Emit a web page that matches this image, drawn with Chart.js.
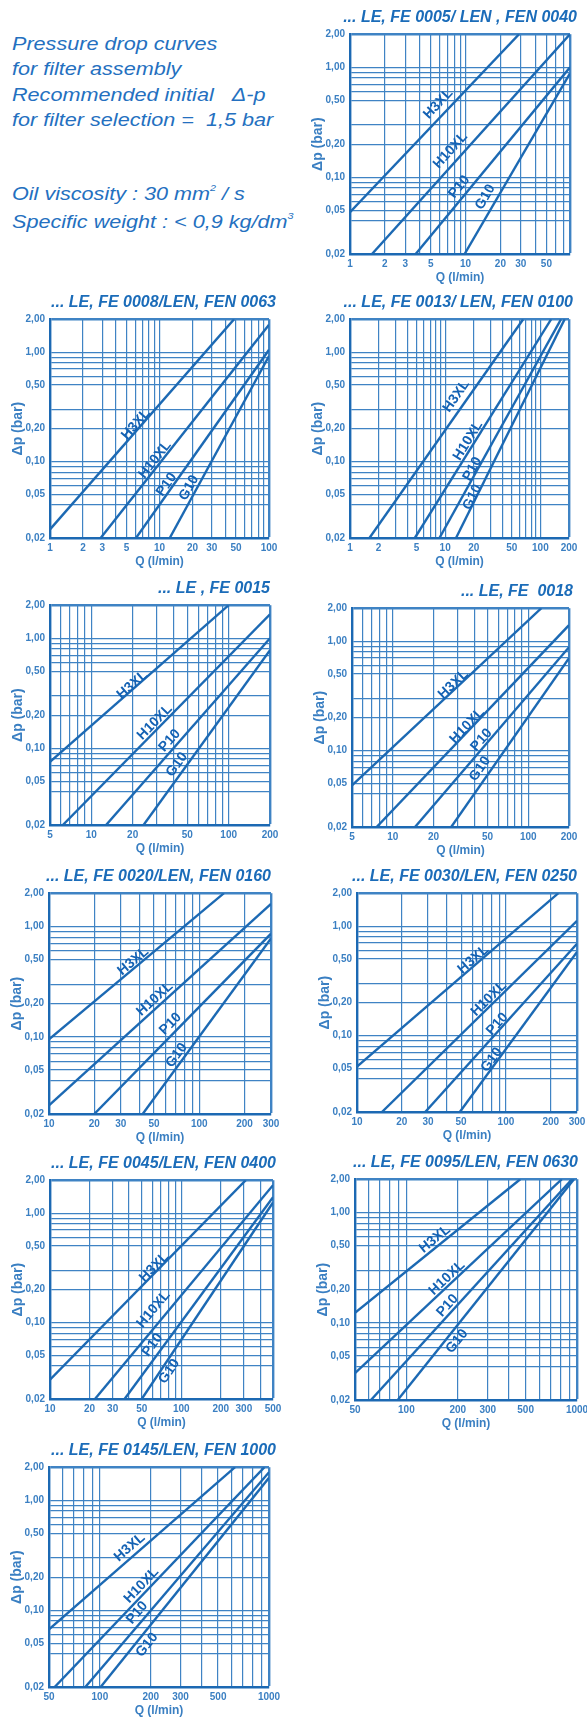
<!DOCTYPE html>
<html>
<head>
<meta charset="utf-8">
<script src="https://cdn.jsdelivr.net/npm/chart.js@4.4.1/dist/chart.umd.min.js"></script>
<style>
body { margin:0; background:#fff; width:587px; height:1717px; position:relative; overflow:hidden; }
.note { position:absolute; left:12px; font-family:'Liberation Sans', Arial, sans-serif; font-style:italic; font-size:18px; line-height:25.3px; color:#2470c0; white-space:nowrap; transform:scaleX(1.2); transform-origin:left top; }
.note sup { font-size:9px; vertical-align:baseline; position:relative; top:-9px; }
canvas { position:absolute; }
</style>
</head>
<body>
<div class="note" style="top:32px">Pressure drop curves<br>for filter assembly<br>Recommended initial&nbsp;&nbsp; &Delta;-p<br>for filter selection =&nbsp; 1,5 bar</div>
<div class="note" style="top:182px">Oil viscosity : 30 mm<sup>2</sup> / s<br>Specific weight : &lt; 0,9 kg/dm<sup>3</sup></div>
<script>
// curve names, same order in every chart
const series = ['H3XL', 'H10XL', 'P10', 'G10']

const titles = [
    '... LE, FE 0005/ LEN , FEN 0040',
    '... LE, FE 0008/LEN, FEN 0063',
    '... LE, FE 0013/ LEN, FEN 0100',
    '... LE , FE 0015',
    '... LE, FE  0018',
    '... LE, FE 0020/LEN, FEN 0160',
    '... LE, FE 0030/LEN, FEN 0250',
    '... LE, FE 0045/LEN, FEN 0400',
    '... LE, FE 0095/LEN, FEN 0630',
    '... LE, FE 0145/LEN, FEN 1000'
]

// Q axis (l/min)
const qMin = [1, 1, 1, 5, 5, 10, 10, 10, 50, 50]
const qMax = [80, 100, 200, 200, 200, 300, 300, 500, 1000, 1000]
const qTickLabels = [
    [1, 2, 3, 5, 10, 20, 30, 50],
    [1, 2, 3, 5, 10, 20, 30, 50, 100],
    [1, 2, 5, 10, 20, 50, 100, 200],
    [5, 10, 20, 50, 100, 200],
    [5, 10, 20, 50, 100, 200],
    [10, 20, 30, 50, 100, 200, 300],
    [10, 20, 30, 50, 100, 200, 300],
    [10, 20, 30, 50, 100, 200, 300, 500],
    [50, 100, 200, 300, 500, 1000],
    [50, 100, 200, 300, 500, 1000]
]

// delta-p axis (bar)
const dpTickLabels = [0.02, 0.05, 0.1, 0.2, 0.5, 1, 2]
const dpGrid = [0.02, 0.04, 0.05, 0.06, 0.07, 0.08, 0.09, 0.1, 0.2, 0.3, 0.5, 0.6, 0.7, 0.8, 0.9, 1, 2]

// each curve: [Q start, Q end] and [dp start, dp end]
const c1Q = [[1, 29], [1.55, 80], [3.7, 80], [9.8, 80]]
const c1Dp = [[0.048, 2], [0.02, 2], [0.02, 1.0], [0.02, 0.88]]
const c2Q = [[1, 48], [2.9, 100], [6.1, 100], [12.4, 100]]
const c2Dp = [[0.024, 2], [0.02, 1.78], [0.02, 1.05], [0.02, 0.92]]
const c3Q = [[1.6, 66], [4.8, 130], [8.7, 165], [13, 180]]
const c3Dp = [[0.02, 2], [0.02, 2], [0.02, 2], [0.02, 2]]
const c4Q = [[5, 100], [6.2, 200], [12.8, 200], [24, 200]]
const c4Dp = [[0.075, 2], [0.02, 1.65], [0.02, 1.0], [0.02, 0.78]]
const c5Q = [[5, 125], [7.6, 200], [14.6, 200], [27, 200]]
const c5Dp = [[0.048, 2], [0.02, 1.4], [0.02, 0.88], [0.02, 0.7]]
const c6Q = [[10, 146], [10, 300], [20, 300], [42, 300]]
const c6Dp = [[0.095, 2], [0.024, 1.6], [0.02, 0.86], [0.02, 0.78]]
const c7Q = [[10, 225], [14.7, 300], [28.7, 300], [49, 300]]
const c7Dp = [[0.052, 2], [0.02, 1.12], [0.02, 0.69], [0.02, 0.58]]
const c8Q = [[10, 310], [22, 500], [37, 500], [50, 500]]
const c8Dp = [[0.03, 2], [0.02, 1.8], [0.02, 1.4], [0.02, 1.25]]
const c9Q = [[50, 465], [50, 815], [62, 935], [89, 960]]
const c9Dp = [[0.123, 2], [0.035, 2], [0.02, 2], [0.02, 2]]
const c10Q = [[50, 630], [54, 940], [82, 1000], [101, 1000]]
const c10Dp = [[0.067, 2], [0.02, 2], [0.02, 1.8], [0.02, 1.6]]

// where each curve name is written (its middle), as Q and dp
const labelQ = [
    [5.8, 7.4, 8.8, 14.8],
    [6.1, 9.1, 11.6, 18.6],
    [13.1, 17.4, 19.3, 19.3],
    [19.9, 29, 37.2, 42],
    [28, 35.4, 45.2, 44],
    [36.3, 50.6, 64.4, 70.6],
    [60.4, 76.9, 87.5, 80.2],
    [62.2, 61.5, 60.4, 81],
    [147, 173, 174, 198],
    [150, 176, 166, 190]
]
const labelDp = [
    [0.464, 0.175, 0.0815, 0.066],
    [0.219, 0.104, 0.0615, 0.0574],
    [0.396, 0.155, 0.0854, 0.0472],
    [0.377, 0.172, 0.117, 0.071],
    [0.402, 0.168, 0.125, 0.068],
    [0.483, 0.22, 0.131, 0.068],
    [0.495, 0.217, 0.127, 0.06],
    [0.32, 0.132, 0.0623, 0.0357],
    [0.574, 0.255, 0.143, 0.068],
    [0.373, 0.168, 0.0946, 0.0483]
]

const allQ = [c1Q, c2Q, c3Q, c4Q, c5Q, c6Q, c7Q, c8Q, c9Q, c10Q]
const allDp = [c1Dp, c2Dp, c3Dp, c4Dp, c5Dp, c6Dp, c7Dp, c8Dp, c9Dp, c10Dp]

// plot area of each chart on the page: left, top, width, height
const boxes = [
    [350, 33, 220, 221], [50, 318, 219, 220],
    [350, 318, 219, 220], [50, 604, 220, 221],
    [352, 607, 217, 220], [49, 892, 222, 222],
    [357, 892, 220, 220], [50, 1179, 223, 220],
    [355, 1178, 222, 222], [49, 1466, 220, 221]
]
// how far each title runs past the right edge of its plot
const titleOverhang = [7, 7, 4, 0, 4, 0, 0, 3, 1, 7]

const FONT = "'Liberation Sans Narrow', 'Liberation Sans', Arial, sans-serif"
const gridBlue = '#3f83c4'
const lineBlue = '#1c69b3'
const textBlue = '#3a7fc2'

// 1..9 x 10^n between min and max, for the vertical grid
function logGrid(min, max){
    let out = []
    for (let e = -2; e < 4; e++){
        for (let s = 1; s < 10; s++){
            let v = Number((s * Math.pow(10, e)).toPrecision(3))
            if (v >= min && v <= max) out.push(v)
        }
    }
    return out
}

// keep the plot box fixed: edge tick labels may hang outside it
function noEdgePadding(scale){
    scale.paddingLeft = 0
    scale.paddingRight = 0
    scale.paddingTop = 0
    scale.paddingBottom = 0
}

// writes the curve names along their lines
const curveLabels = {
    id: 'curveLabels',
    afterDatasetsDraw(chart, args, opts){
        let ctx = chart.ctx
        let xs = chart.scales.x
        let ys = chart.scales.y
        chart.data.datasets.forEach(function(ds, i){
            let a = ds.data[0], b = ds.data[1]
            let ang = Math.atan2(ys.getPixelForValue(b.y) - ys.getPixelForValue(a.y),
                                 xs.getPixelForValue(b.x) - xs.getPixelForValue(a.x))
            ctx.save()
            ctx.translate(xs.getPixelForValue(opts.q[i]), ys.getPixelForValue(opts.dp[i]))
            ctx.rotate(ang)
            ctx.font = "bold 14px 'Liberation Sans', Arial, sans-serif"
            ctx.fillStyle = '#1462b4'
            ctx.textAlign = 'center'
            ctx.textBaseline = 'middle'
            ctx.fillText(ds.label, 0, 0)
            ctx.restore()
        })
    }
}

for (let c = 0; c < 10; c++){
    let [pl, pt, pw, ph] = boxes[c]
    let gutter = titleOverhang[c]
    let edge = qMax[c] >= 1000 ? 12 : 9
    let padR = Math.max(0, edge - gutter)
    let canvas = document.createElement('canvas')
    canvas.width = 46 + pw + gutter + padR
    canvas.height = 28 + ph + 32
    canvas.style.left = (pl - 46) + 'px'
    canvas.style.top = (pt - 28) + 'px'
    document.body.appendChild(canvas)

    let datasets = series.map(function(name, i){
        return {
            label: name,
            data: [
                {x: allQ[c][i][0], y: allDp[c][i][0]},
                {x: allQ[c][i][1], y: allDp[c][i][1]}
            ],
            borderColor: lineBlue,
            borderWidth: 2.4,
            pointRadius: 0,
            tension: 0
        }
    })
    let xGrid = logGrid(qMin[c], qMax[c])

    new Chart(canvas.getContext('2d'), {
        type: 'line',
        data: { datasets: datasets },
        plugins: [curveLabels],
        options: {
            responsive: false,
            animation: false,
            devicePixelRatio: 1,
            layout: { padding: { left: 0, right: padR, top: 0, bottom: 0 } },
            plugins: {
                legend: { display: false },
                tooltip: { enabled: false },
                title: {
                    display: true,
                    text: titles[c],
                    align: 'end',
                    color: '#1b6cb9',
                    font: { family: FONT, size: 16, weight: 'bold', style: 'italic' },
                    padding: { top: 3, bottom: 7 }
                },
                curveLabels: { q: labelQ[c], dp: labelDp[c] }
            },
            scales: {
                x: {
                    type: 'logarithmic',
                    min: qMin[c],
                    max: qMax[c],
                    afterBuildTicks: function(scale){ scale.ticks = xGrid.map(v => ({value: v})) },
                    afterFit: function(scale){ scale.height = 32; noEdgePadding(scale) },
                    grid: {
                        color: gridBlue,
                        drawTicks: false,
                        lineWidth: (ctx) => (ctx.tick && ctx.tick.value === qMax[c]) ? 2.4 : 1.2
                    },
                    border: { display: true, color: lineBlue, width: 2.4 },
                    ticks: {
                        autoSkip: false, maxRotation: 0, minRotation: 0, padding: 4,
                        color: textBlue,
                        font: { family: FONT, size: 10, weight: 'bold' },
                        callback: (v) => qTickLabels[c].includes(v) ? String(v) : ''
                    },
                    title: {
                        display: true, text: 'Q (l/min)', color: textBlue,
                        font: { family: FONT, size: 12, weight: 'bold' },
                        padding: { top: 0, bottom: 1 }
                    }
                },
                y: {
                    type: 'logarithmic',
                    min: 0.02,
                    max: 2,
                    afterBuildTicks: function(scale){ scale.ticks = dpGrid.map(v => ({value: v})) },
                    afterFit: function(scale){ scale.width = 46; noEdgePadding(scale) },
                    grid: {
                        color: gridBlue,
                        drawTicks: false,
                        lineWidth: (ctx) => (ctx.tick && ctx.tick.value === 2) ? 2.4 : 1.2
                    },
                    border: { display: true, color: lineBlue, width: 2.4 },
                    ticks: {
                        autoSkip: false, padding: 5,
                        color: textBlue,
                        font: { family: FONT, size: 10, weight: 'bold' },
                        callback: (v) => dpTickLabels.includes(v) ? v.toFixed(2).replace('.', ',') : ''
                    },
                    title: {
                        display: true, text: '\u0394p (bar)', color: textBlue,
                        font: { family: FONT, size: 14, weight: 'bold' },
                        padding: { top: 6, bottom: 0 }
                    }
                },
                // empty strip on the right so the title can reach past the plot
                gutter: {
                    type: 'linear',
                    position: 'right',
                    display: gutter > 0,
                    grid: { display: false },
                    border: { display: false },
                    ticks: { display: false },
                    afterFit: function(scale){ scale.width = gutter; noEdgePadding(scale) }
                }
            }
        }
    })
}
</script>
</body>
</html>
